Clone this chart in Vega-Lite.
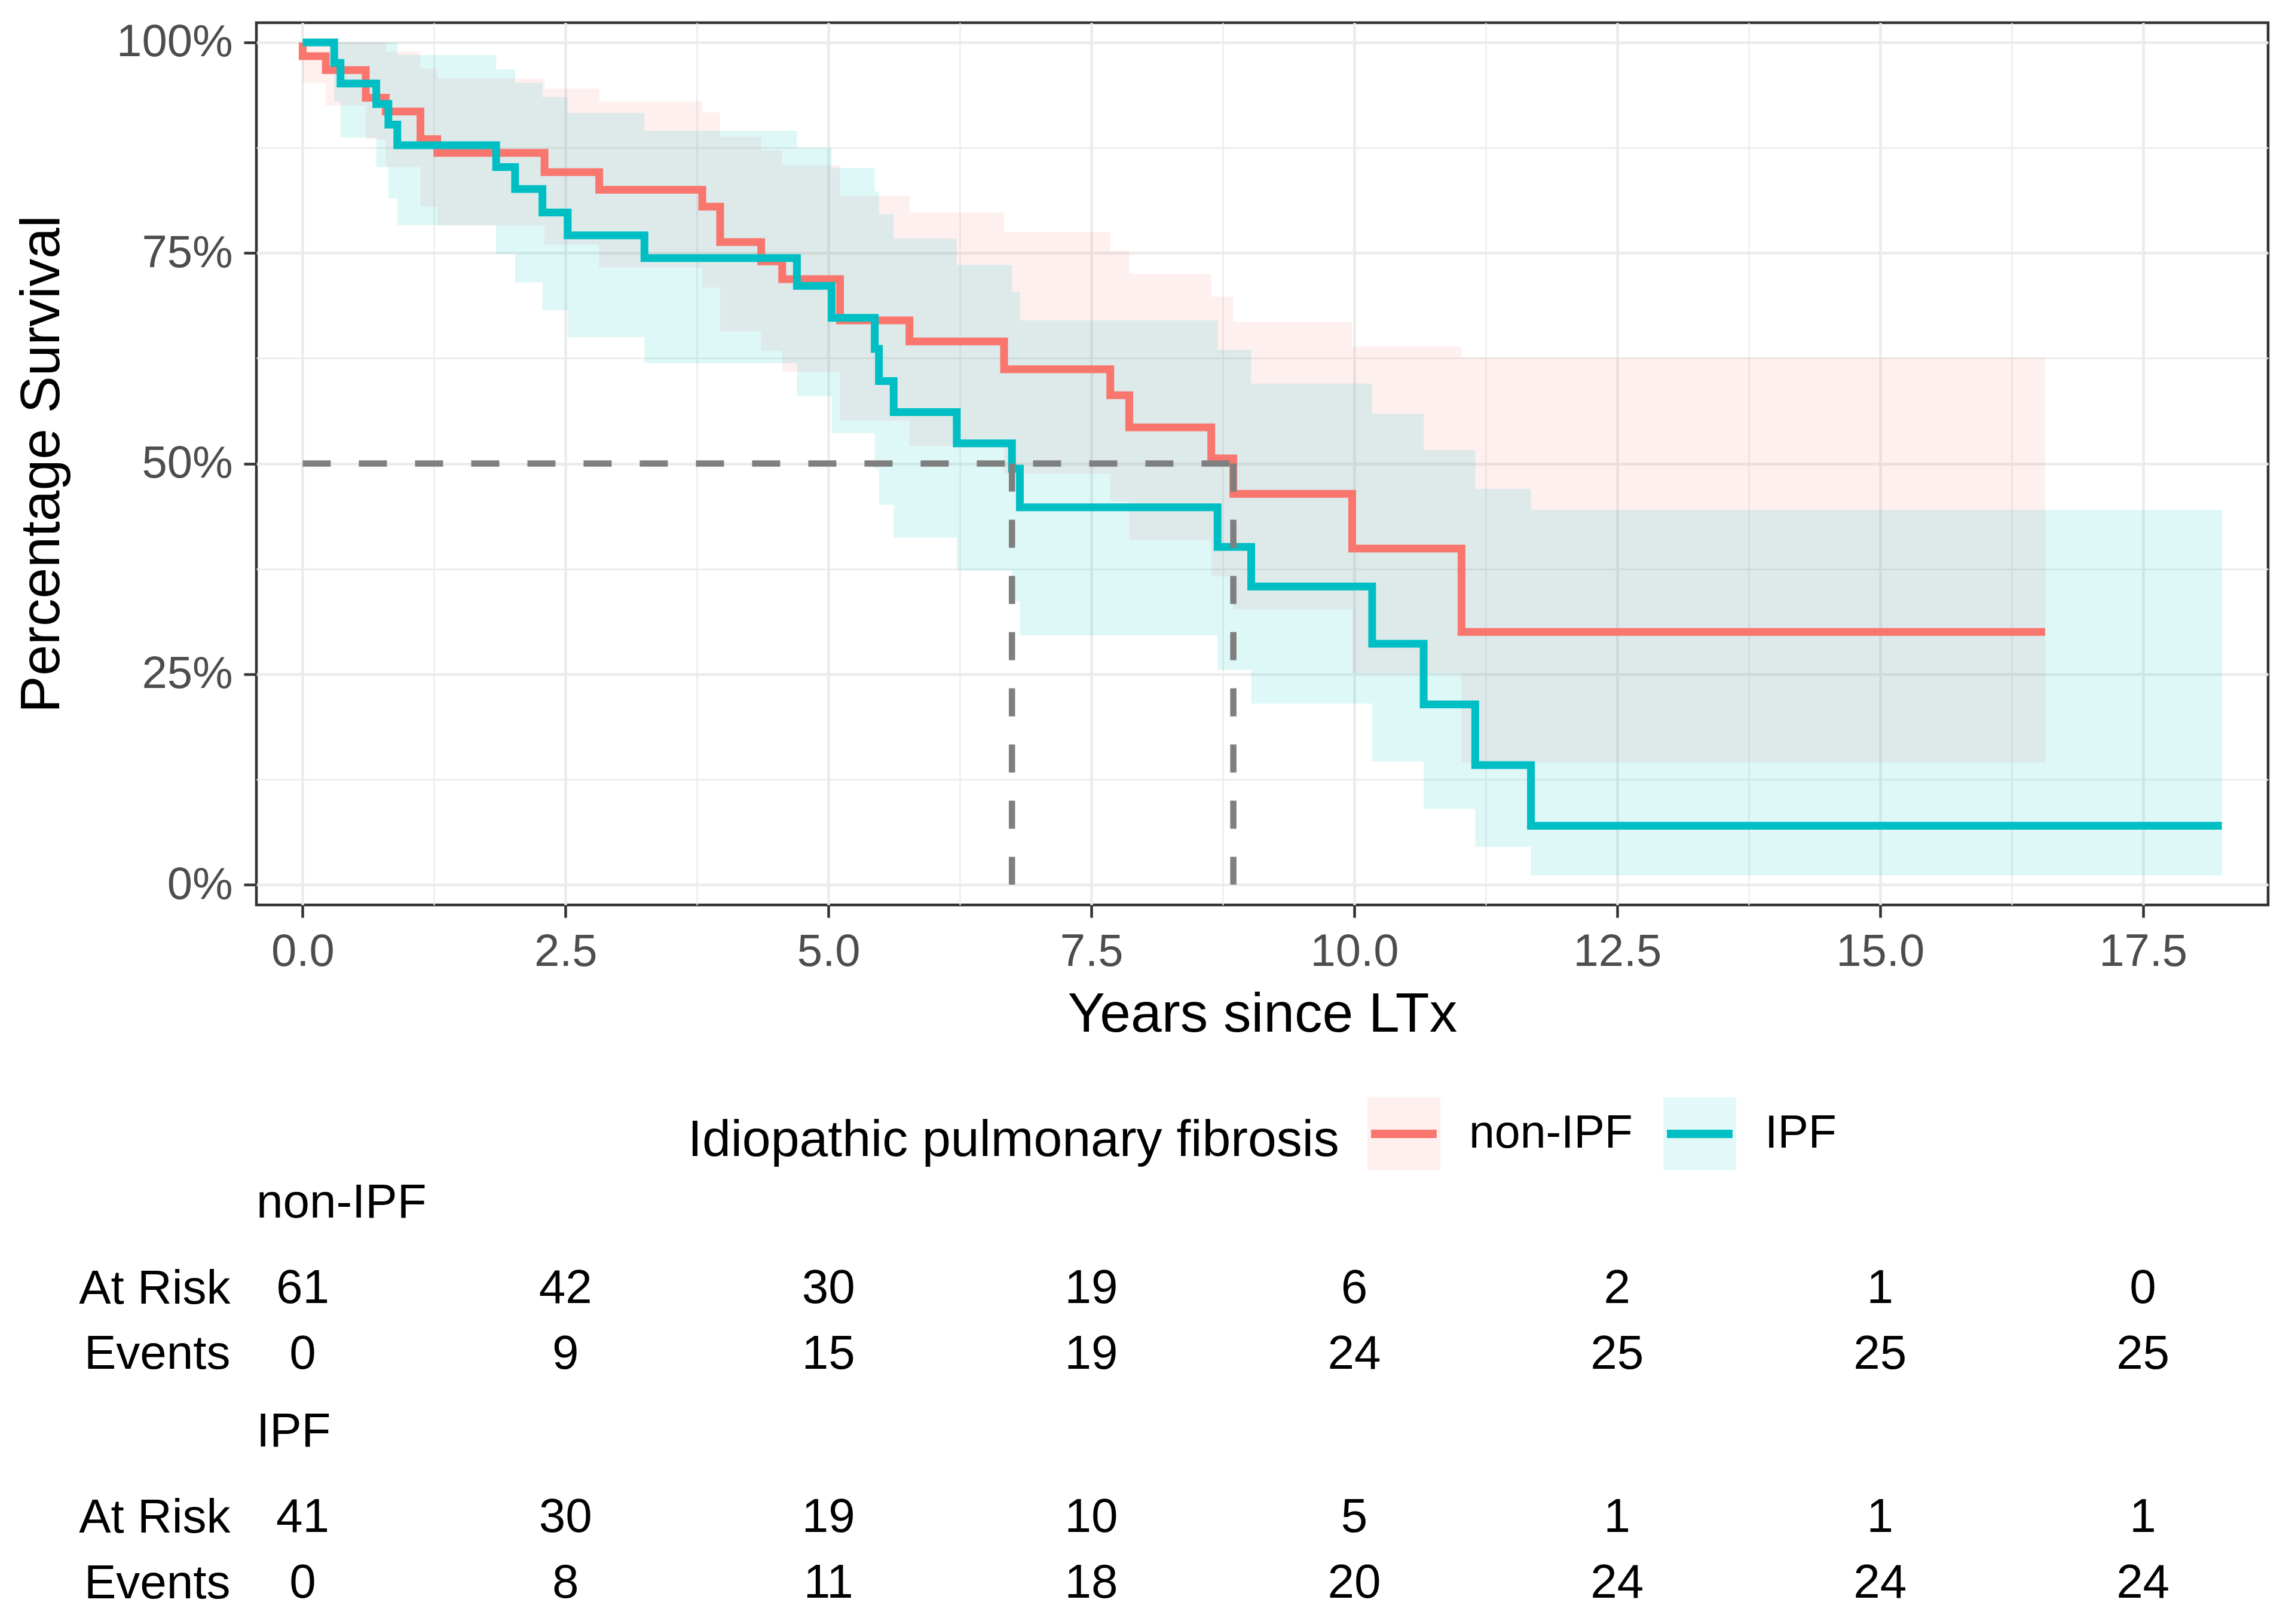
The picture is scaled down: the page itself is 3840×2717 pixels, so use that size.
{
  "$schema": "https://vega.github.io/schema/vega-lite/v6.json",
  "background": "white",
  "padding": {"left": 21, "top": 30, "right": 10, "bottom": 0},
  "spacing": -16,
  "resolve": {"legend": {"fill": "independent", "stroke": "independent"}},
  "config": {
    "font": "Liberation Sans",
    "view": {"stroke": null},
    "axis": {
      "labelFont": "Liberation Sans",
      "titleFont": "Liberation Sans",
      "labelFontSize": 76,
      "labelColor": "#4D4D4D",
      "labelLimit": 1000,
      "titleFontSize": 93,
      "titleFontWeight": "normal",
      "titleColor": "#000000",
      "gridColor": "#EBEBEB",
      "tickColor": "#333333",
      "tickWidth": 4.5,
      "tickSize": 21,
      "domain": false
    },
    "legend": {"layout": {"bottom": {"anchor": "middle"}}}
  },
  "vconcat": [
    {
      "width": 3366,
      "height": 1476,
      "view": {"stroke": "#333333", "strokeWidth": 4.5},
      "data": {
        "values": [
          {"g": "non-IPF", "t": 0, "s": 100, "lo": 100, "hi": 100},
          {"g": "non-IPF", "t": 0, "s": 98.36, "lo": 95.2, "hi": 100},
          {"g": "non-IPF", "t": 0.22, "s": 96.72, "lo": 92.5, "hi": 100},
          {"g": "non-IPF", "t": 0.6, "s": 93.44, "lo": 88.5, "hi": 100},
          {"g": "non-IPF", "t": 0.79, "s": 91.8, "lo": 85.2, "hi": 98.9},
          {"g": "non-IPF", "t": 1.12, "s": 88.52, "lo": 80.5, "hi": 96.9},
          {"g": "non-IPF", "t": 1.28, "s": 86.89, "lo": 78.3, "hi": 95.7},
          {"g": "non-IPF", "t": 2.3, "s": 84.6, "lo": 76.0, "hi": 94.5},
          {"g": "non-IPF", "t": 2.82, "s": 82.5, "lo": 73.3, "hi": 93.0},
          {"g": "non-IPF", "t": 3.8, "s": 80.5, "lo": 70.9, "hi": 91.7},
          {"g": "non-IPF", "t": 3.97, "s": 76.3, "lo": 65.7, "hi": 88.8},
          {"g": "non-IPF", "t": 4.36, "s": 74.0, "lo": 63.4, "hi": 87.2},
          {"g": "non-IPF", "t": 4.56, "s": 71.9, "lo": 60.9, "hi": 85.4},
          {"g": "non-IPF", "t": 5.11, "s": 67.0, "lo": 55.1, "hi": 81.8},
          {"g": "non-IPF", "t": 5.77, "s": 64.5, "lo": 52.1, "hi": 79.8},
          {"g": "non-IPF", "t": 6.67, "s": 61.2, "lo": 48.8, "hi": 77.5},
          {"g": "non-IPF", "t": 7.68, "s": 58.1, "lo": 45.5, "hi": 75.3},
          {"g": "non-IPF", "t": 7.86, "s": 54.3, "lo": 40.9, "hi": 72.5},
          {"g": "non-IPF", "t": 8.64, "s": 50.6, "lo": 36.6, "hi": 69.8},
          {"g": "non-IPF", "t": 8.85, "s": 46.4, "lo": 32.7, "hi": 66.8},
          {"g": "non-IPF", "t": 9.98, "s": 39.9, "lo": 25.1, "hi": 63.9},
          {"g": "non-IPF", "t": 11.02, "s": 30.0, "lo": 14.5, "hi": 62.6},
          {"g": "non-IPF", "t": 16.57, "s": 30.0, "lo": 14.5, "hi": 62.6},
          {"g": "IPF", "t": 0, "s": 100, "lo": 100, "hi": 100},
          {"g": "IPF", "t": 0.3, "s": 97.56, "lo": 93.0, "hi": 100},
          {"g": "IPF", "t": 0.36, "s": 95.12, "lo": 88.7, "hi": 100},
          {"g": "IPF", "t": 0.7, "s": 92.68, "lo": 85.2, "hi": 100},
          {"g": "IPF", "t": 0.815, "s": 90.24, "lo": 81.5, "hi": 100},
          {"g": "IPF", "t": 0.9, "s": 87.8, "lo": 78.3, "hi": 98.5},
          {"g": "IPF", "t": 1.84, "s": 85.2, "lo": 74.9, "hi": 96.8},
          {"g": "IPF", "t": 2.02, "s": 82.6, "lo": 71.5, "hi": 95.2},
          {"g": "IPF", "t": 2.28, "s": 79.8, "lo": 68.2, "hi": 93.5},
          {"g": "IPF", "t": 2.52, "s": 77.1, "lo": 65.0, "hi": 91.6},
          {"g": "IPF", "t": 3.25, "s": 74.4, "lo": 61.9, "hi": 89.5},
          {"g": "IPF", "t": 4.7, "s": 71.1, "lo": 58.0, "hi": 87.5},
          {"g": "IPF", "t": 5.03, "s": 67.3, "lo": 53.6, "hi": 85.1},
          {"g": "IPF", "t": 5.44, "s": 63.6, "lo": 49.4, "hi": 82.3},
          {"g": "IPF", "t": 5.48, "s": 59.8, "lo": 45.1, "hi": 79.6},
          {"g": "IPF", "t": 5.62, "s": 56.1, "lo": 41.2, "hi": 76.7},
          {"g": "IPF", "t": 6.22, "s": 52.4, "lo": 37.3, "hi": 73.6},
          {"g": "IPF", "t": 6.745, "s": 49.4, "lo": 33.6, "hi": 70.4},
          {"g": "IPF", "t": 6.82, "s": 44.8, "lo": 29.6, "hi": 67.0},
          {"g": "IPF", "t": 8.7, "s": 40.1, "lo": 25.5, "hi": 63.5},
          {"g": "IPF", "t": 9.02, "s": 35.4, "lo": 21.5, "hi": 59.5},
          {"g": "IPF", "t": 10.17, "s": 28.6, "lo": 14.6, "hi": 55.9},
          {"g": "IPF", "t": 10.66, "s": 21.4, "lo": 9.0, "hi": 51.6},
          {"g": "IPF", "t": 11.15, "s": 14.2, "lo": 4.5, "hi": 47.0},
          {"g": "IPF", "t": 11.68, "s": 7.0, "lo": 1.1, "hi": 44.5},
          {"g": "IPF", "t": 18.25, "s": 7.0, "lo": 1.1, "hi": 44.5}
        ]
      },
      "layer": [
        {
          "transform": [{"filter": "datum.g === 'non-IPF'"}],
          "mark": {"type": "area", "interpolate": "step-after", "fillOpacity": 0.11},
          "encoding": {
            "x": {
              "field": "t", "type": "quantitative", "title": "Years since LTx",
              "scale": {"domain": [-0.44, 18.69], "nice": false, "zero": false},
              "axis": {
                "values": [0, 1.25, 2.5, 3.75, 5, 6.25, 7.5, 8.75, 10, 11.25, 12.5, 13.75, 15, 16.25, 17.5],
                "labelExpr": "datum.value % 2.5 === 0 ? format(datum.value, '.1f') : ''",
                "gridWidth": {"condition": {"test": "datum.value % 2.5 !== 0", "value": 2.3}, "value": 4.5},
                "tickOpacity": {"condition": {"test": "datum.value % 2.5 !== 0", "value": 0}, "value": 1},
                "labelPadding": 20,
                "titlePadding": 22,
                "labelFlush": false,
                "labelOverlap": false
              }
            },
            "y": {
              "field": "lo", "type": "quantitative", "title": "Percentage Survival",
              "scale": {"domain": [-2.41, 102.34], "nice": false, "zero": false},
              "axis": {
                "values": [0, 12.5, 25, 37.5, 50, 62.5, 75, 87.5, 100],
                "labelExpr": "datum.value % 25 === 0 ? datum.value + '%' : ''",
                "gridWidth": {"condition": {"test": "datum.value % 25 !== 0", "value": 2.3}, "value": 4.5},
                "tickOpacity": {"condition": {"test": "datum.value % 25 !== 0", "value": 0}, "value": 1},
                "labelPadding": 19,
                "titlePadding": 111,
                "labelOverlap": false
              }
            },
            "y2": {"field": "hi"},
            "fill": {
              "field": "g", "type": "nominal",
              "scale": {"domain": ["non-IPF", "IPF"], "range": ["#F8766D", "#00BFC4"]},
              "legend": {
                "title": "Idiopathic pulmonary fibrosis",
                "orient": "bottom", "direction": "horizontal",
                "titleOrient": "left", "titleAnchor": "middle", "titleBaseline": "middle",
                "titleFontSize": 86, "titleFontWeight": "normal", "titleColor": "#000000", "titlePadding": 40, "titleLimit": 3000,
                "labelFontSize": 77, "labelColor": "#000000", "labelOffset": 41, "labelLimit": 1000,
                "columnPadding": 23, "offset": 85,
                "symbolType": "M-0.9,0H0.9H-0.9H0.9H-0.9H0.9H-0.9M-1,-1H1V1H-1Z",
                "symbolSize": 14884, "symbolStrokeWidth": 14,
                "symbolDash": [0, 549, 110, 5000],
                "encode": {"symbols": {"update": {
                  "fill": {"scale": "fill", "field": "value"},
                  "fillOpacity": {"value": 0.11},
                  "stroke": {"scale": "stroke", "field": "value"},
                  "strokeOpacity": {"value": 1},
                  "opacity": {"value": 1}
                }}}
              }
            },
            "order": [{"field": "t", "type": "quantitative"}, {"field": "s", "type": "quantitative", "sort": "descending"}]
          }
        },
        {
          "transform": [{"filter": "datum.g === 'IPF'"}],
          "mark": {"type": "area", "interpolate": "step-after", "fillOpacity": 0.13},
          "encoding": {
            "x": {"field": "t", "type": "quantitative", "title": "Years since LTx"},
            "y": {"field": "lo", "type": "quantitative", "title": "Percentage Survival"},
            "y2": {"field": "hi"},
            "fill": {"field": "g", "type": "nominal"},
            "order": [{"field": "t", "type": "quantitative"}, {"field": "s", "type": "quantitative", "sort": "descending"}]
          }
        },
        {
          "transform": [{"filter": "datum.g === 'non-IPF'"}],
          "mark": {"type": "line", "interpolate": "step-after", "strokeWidth": 13},
          "encoding": {
            "x": {"field": "t", "type": "quantitative", "title": "Years since LTx"},
            "y": {"field": "s", "type": "quantitative", "title": "Percentage Survival"},
            "stroke": {
              "field": "g", "type": "nominal",
              "scale": {"domain": ["non-IPF", "IPF"], "range": ["#F8766D", "#00BFC4"]},
              "legend": {
                "title": "Idiopathic pulmonary fibrosis",
                "orient": "bottom", "direction": "horizontal",
                "titleOrient": "left", "titleAnchor": "middle", "titleBaseline": "middle",
                "titleFontSize": 86, "titleFontWeight": "normal", "titleColor": "#000000", "titlePadding": 40, "titleLimit": 3000,
                "labelFontSize": 77, "labelColor": "#000000", "labelOffset": 41, "labelLimit": 1000,
                "columnPadding": 23, "offset": 85,
                "symbolType": "M-0.9,0H0.9H-0.9H0.9H-0.9H0.9H-0.9M-1,-1H1V1H-1Z",
                "symbolSize": 14884, "symbolStrokeWidth": 14,
                "symbolDash": [0, 549, 110, 5000]
              }
            },
            "order": [{"field": "t", "type": "quantitative"}, {"field": "s", "type": "quantitative", "sort": "descending"}]
          }
        },
        {
          "transform": [{"filter": "datum.g === 'IPF'"}],
          "mark": {"type": "line", "interpolate": "step-after", "strokeWidth": 13},
          "encoding": {
            "x": {"field": "t", "type": "quantitative", "title": "Years since LTx"},
            "y": {"field": "s", "type": "quantitative", "title": "Percentage Survival"},
            "stroke": {"field": "g", "type": "nominal"},
            "order": [{"field": "t", "type": "quantitative"}, {"field": "s", "type": "quantitative", "sort": "descending"}]
          }
        },
        {
          "data": {
            "values": [
              {"t": 0, "s": 50, "t2": 8.85, "s2": 50},
              {"t": 6.745, "s": 50, "t2": 6.745, "s2": 0},
              {"t": 8.85, "s": 50, "t2": 8.85, "s2": 0}
            ]
          },
          "mark": {"type": "rule", "color": "#7F7F7F", "strokeWidth": 10.5, "strokeDash": [47, 47]},
          "encoding": {
            "x": {"field": "t", "type": "quantitative", "title": "Years since LTx"},
            "x2": {"field": "t2"},
            "y": {"field": "s", "type": "quantitative", "title": "Percentage Survival"},
            "y2": {"field": "s2"}
          }
        }
      ]
    },
    {
      "width": 3366,
      "height": 322,
      "title": {"text": "non-IPF", "anchor": "start", "frame": "group", "fontSize": 80, "fontWeight": "normal", "color": "#000000", "font": "Liberation Sans", "baseline": "alphabetic", "offset": -67},
      "data": {
        "values": [
          {"row": "At Risk", "t": 0, "n": 61}, {"row": "At Risk", "t": 2.5, "n": 42}, {"row": "At Risk", "t": 5, "n": 30}, {"row": "At Risk", "t": 7.5, "n": 19},
          {"row": "At Risk", "t": 10, "n": 6}, {"row": "At Risk", "t": 12.5, "n": 2}, {"row": "At Risk", "t": 15, "n": 1}, {"row": "At Risk", "t": 17.5, "n": 0},
          {"row": "Events", "t": 0, "n": 0}, {"row": "Events", "t": 2.5, "n": 9}, {"row": "Events", "t": 5, "n": 15}, {"row": "Events", "t": 7.5, "n": 19},
          {"row": "Events", "t": 10, "n": 24}, {"row": "Events", "t": 12.5, "n": 25}, {"row": "Events", "t": 15, "n": 25}, {"row": "Events", "t": 17.5, "n": 25}
        ]
      },
      "mark": {"type": "text", "fontSize": 80, "font": "Liberation Sans", "color": "#000000"},
      "encoding": {
        "x": {"field": "t", "type": "quantitative", "scale": {"domain": [-0.44, 18.69], "nice": false, "zero": false}, "axis": null},
        "y": {"field": "row", "type": "nominal", "sort": ["At Risk", "Events"], "scale": {"padding": 0.964}, "axis": {"title": null, "ticks": false, "tickSize": 0, "domain": false, "grid": false, "labelFontSize": 80, "labelColor": "#000000", "labelPadding": 44}},
        "text": {"field": "n", "type": "quantitative"}
      }
    },
    {
      "width": 3366,
      "height": 220,
      "title": {"text": "IPF", "anchor": "start", "frame": "group", "fontSize": 80, "fontWeight": "normal", "color": "#000000", "font": "Liberation Sans", "baseline": "alphabetic", "offset": -16},
      "data": {
        "values": [
          {"row": "At Risk", "t": 0, "n": 41}, {"row": "At Risk", "t": 2.5, "n": 30}, {"row": "At Risk", "t": 5, "n": 19}, {"row": "At Risk", "t": 7.5, "n": 10},
          {"row": "At Risk", "t": 10, "n": 5}, {"row": "At Risk", "t": 12.5, "n": 1}, {"row": "At Risk", "t": 15, "n": 1}, {"row": "At Risk", "t": 17.5, "n": 1},
          {"row": "Events", "t": 0, "n": 0}, {"row": "Events", "t": 2.5, "n": 8}, {"row": "Events", "t": 5, "n": 11}, {"row": "Events", "t": 7.5, "n": 18},
          {"row": "Events", "t": 10, "n": 20}, {"row": "Events", "t": 12.5, "n": 24}, {"row": "Events", "t": 15, "n": 24}, {"row": "Events", "t": 17.5, "n": 24}
        ]
      },
      "mark": {"type": "text", "fontSize": 80, "font": "Liberation Sans", "color": "#000000"},
      "encoding": {
        "x": {"field": "t", "type": "quantitative", "scale": {"domain": [-0.44, 18.69], "nice": false, "zero": false}, "axis": null},
        "y": {"field": "row", "type": "nominal", "sort": ["At Risk", "Events"], "axis": {"title": null, "ticks": false, "tickSize": 0, "domain": false, "grid": false, "labelFontSize": 80, "labelColor": "#000000", "labelPadding": 44}},
        "text": {"field": "n", "type": "quantitative"}
      }
    }
  ]
}
